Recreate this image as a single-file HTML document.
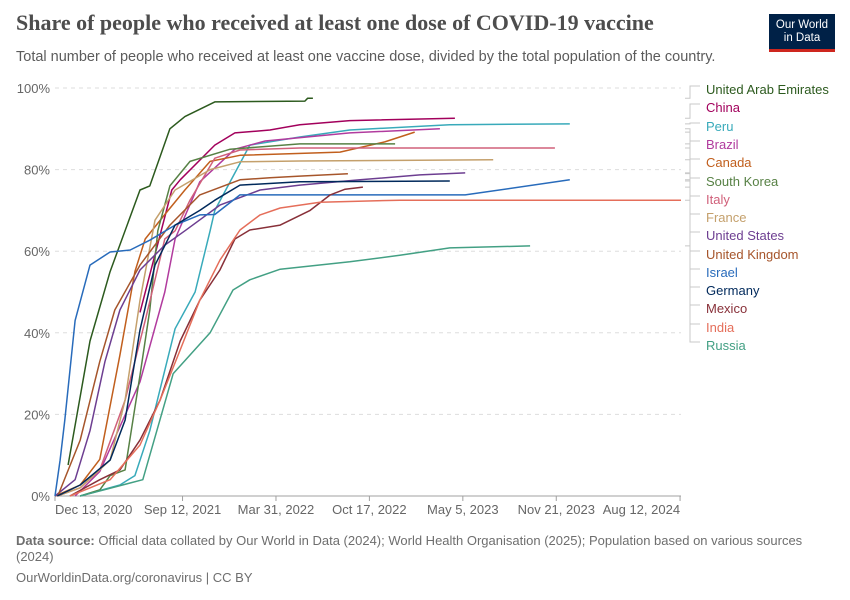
<!DOCTYPE html>
<html><head><meta charset="utf-8">
<style>
body{margin:0;background:#fff;font-family:"Liberation Sans",sans-serif;}
#wrap{position:relative;width:850px;height:600px;overflow:hidden;}
.title{position:absolute;left:16px;top:10px;font-family:"Liberation Serif",serif;font-weight:bold;font-size:22px;color:#4d4d4d;}
.sub{position:absolute;left:16px;top:49px;font-size:14.5px;color:#5b5b5b;}
.logo{position:absolute;left:769px;top:14px;width:66px;height:38px;background:#002147;color:#fff;font-size:11.5px;line-height:13px;text-align:center;box-sizing:border-box;padding-top:5px;border-bottom:3px solid #ce261e;}
.foot{position:absolute;left:16px;font-size:13px;color:#6e6e6e;}
</style></head><body>
<div id="wrap">
<div class="title">Share of people who received at least one dose of COVID-19 vaccine</div>
<div class="sub">Total number of people who received at least one vaccine dose, divided by the total population of the country.</div>
<div class="logo">Our World<br>in Data</div>
<svg id="chart" width="850" height="600" style="position:absolute;left:0;top:0"></svg>
<div class="foot" style="top:533px;line-height:16px;width:800px"><b>Data source:</b> Official data collated by Our World in Data (2024); World Health Organisation (2025); Population based on various sources (2024)</div>
<div class="foot" style="top:570px">OurWorldinData.org/coronavirus | CC BY</div>
</div>
<script>
const yTicks=[0,20,40,60,80,100];
const xTickLabels=["Dec 13, 2020","Sep 12, 2021","Mar 31, 2022","Oct 17, 2022","May 5, 2023","Nov 21, 2023","Aug 12, 2024"];
const xTickDays=[0,273,473,673,873,1073,1338];
const names=["United Arab Emirates","China","Peru","Brazil","Canada","South Korea","Italy","France","United States","United Kingdom","Israel","Germany","Mexico","India","Russia"];
const colors=["#2c5a1e","#a2005c","#38aaba","#b13b9e","#c15f1d","#578145","#d0607a","#c4a06c","#6d3e91","#a6552b","#286bbb","#00295b","#883039","#e56e5a","#43a084"];
const uaeDays=[28,75,118,182,203,246,278,342,535,541,552];
const uaeVals=[7.6,38,55,75,76,90,93,96.6,96.8,97.5,97.5];
const chinaDays=[182,250,268,342,385,460,524,631,856];
const chinaVals=[45,75,77.5,86,89,89.7,91,92,92.6];
const peruDays=[54,139,171,203,257,300,332,342,417,524,631,845,1102];
const peruVals=[0,2.7,5,16,41,50,65,70,86,88,89.7,91,91.2];
const brazilDays=[43,96,182,235,257,310,385,450,631,824];
const brazilVals=[0,6,28,50,63,77,85,87,89,90];
const canadaDays=[0,54,96,139,171,193,235,278,332,396,610,706,770];
const canadaVals=[0,2.7,9,34.5,55,63,69,75,82,83.5,84.3,86.8,89.2];
const koreaDays=[54,96,118,150,182,203,220,246,289,375,524,728];
const koreaVals=[0,1.5,5,6.4,29.6,45.6,65,76,82,85,86.3,86.3];
const italyDays=[5,54,96,150,193,235,257,289,342,396,524,1070];
const italyVals=[0,2,6.4,23.5,43,63,65,72.5,82.8,84.8,85.3,85.3];
const franceDays=[5,54,118,150,182,214,257,332,396,524,938];
const franceVals=[0,2,8.8,23.5,48,67.6,75,80,81.9,82.1,82.4];
const usDays=[0,43,75,107,139,182,235,278,353,439,524,653,781,878];
const usVals=[0,4,16,33,45.6,55.4,61.5,65,71.3,75,76.2,77.5,78.7,79.2];
const ukDays=[6,54,96,128,182,246,310,396,460,524,627];
const ukVals=[0,13.7,33,45.6,56.6,66.4,73.8,77.5,78,78.4,79];
const israelDays=[0,11,21,43,75,118,161,203,257,310,342,396,524,878,1102];
const israelVals=[0,8.8,18.6,43,56.6,59.8,60.3,62.7,66.4,68.9,69,73.8,73.8,73.8,77.5];
const germanyDays=[5,54,118,150,182,214,257,310,342,396,524,845];
const germanyVals=[0,2.7,8.8,18.6,40.7,56.6,66.4,70,72.5,76.2,77,77.2];
const mexicoDays=[32,96,139,182,225,268,310,353,385,417,482,546,589,621,659];
const mexicoVals=[0,4,6.4,13.7,23.5,38,48,55.4,63,65.2,66.4,70,73.8,75.2,75.7];
const indiaDays=[32,118,182,225,268,310,353,396,439,482,567,738,1340];
const indiaVals=[0,4,12.5,23.5,35.8,48,57.8,65.2,68.9,70.6,72,72.5,72.5];
const russiaDays=[54,188,253,332,381,417,482,631,738,845,1017];
const russiaVals=[0,4,30,40,50.5,53,55.6,57.4,59,60.8,61.3];
const allDays=[uaeDays,chinaDays,peruDays,brazilDays,canadaDays,koreaDays,italyDays,franceDays,usDays,ukDays,israelDays,germanyDays,mexicoDays,indiaDays,russiaDays];
const allVals=[uaeVals,chinaVals,peruVals,brazilVals,canadaVals,koreaVals,italyVals,franceVals,usVals,ukVals,israelVals,germanyVals,mexicoVals,indiaVals,russiaVals];

const NS="http://www.w3.org/2000/svg";
const svg=document.getElementById('chart');
const X0=55,X1=681,Y0=496,Y1=88,DMAX=1340;
function xs(d){return X0+(X1-X0)*d/DMAX;}
function ys(v){return Y0-(Y0-Y1)*v/100;}
function mk(tag,attrs,txt){const e=document.createElementNS(NS,tag);for(const k in attrs)e.setAttribute(k,attrs[k]);if(txt!==undefined)e.textContent=txt;svg.appendChild(e);return e;}

yTicks.forEach(t=>{
  const g=mk('line',{x1:X0,x2:X1,y1:ys(t),y2:ys(t),stroke:t===0?'#a0a0a0':'#dddddd','stroke-dasharray':t===0?'':'4,4'});
  
  
  const l=mk('text',{x:50,y:ys(t)+5,'text-anchor':'end','font-size':'13','fill':'#666','font-family':'Liberation Sans, sans-serif'},t+'%');
  
  
});
xTickLabels.forEach((lab,i)=>{
  const x=xs(xTickDays[i]);
  const tk=mk('line',{x1:x,x2:x,y1:Y0,y2:Y0+5,stroke:'#a0a0a0'});
  
  
  const anchor=i===0?'start':(i===xTickLabels.length-1?'end':'middle');
  const tx=i===0?X0:x;
  const l=mk('text',{x:tx,y:514,'text-anchor':anchor,'font-size':'13','fill':'#666','font-family':'Liberation Sans, sans-serif'},lab);
  
  
});
const labelY=[90,108,127,145,163,182,200,218,236,255,273,291,309,328,346];
names.forEach((n,i)=>{
  const d=allDays[i],v=allVals[i];
  const pts=d.map((dd,j)=>xs(dd).toFixed(1)+','+ys(v[j]).toFixed(1)).join(' ');
  const p=mk('polyline',{points:pts,fill:'none',stroke:colors[i],'stroke-width':'1.5','stroke-linejoin':'round'});
  
  
  const ye=ys(v[v.length-1]);
  const c=mk('polyline',{points:`685,${ye} 690,${ye} 690,${labelY[i]-4} 700,${labelY[i]-4}`,fill:'none',stroke:'#c8c8c8','stroke-width':'1'});
  
  
  const t=mk('text',{x:706,y:labelY[i]+4,'font-size':'13','fill':colors[i],'font-family':'Liberation Sans, sans-serif'},n);
  
  
});
</script>
</body></html>
